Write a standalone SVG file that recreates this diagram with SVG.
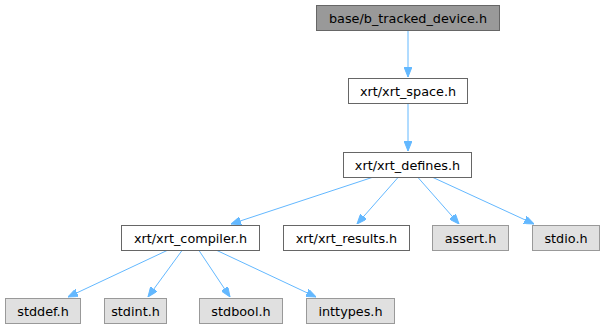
<svg xmlns="http://www.w3.org/2000/svg" width="604" height="329" viewBox="0 0 604 329">
<style>
.n rect{stroke-width:1}
.cur rect{fill:#999999;stroke:#666666}
.loc rect{fill:#ffffff;stroke:#666666}
.sys rect{fill:#e0e0e0;stroke:#999999}
text{font-family:"DejaVu Sans",sans-serif;font-size:12.8px;fill:#000;text-anchor:middle}
.e{stroke:#63b8ff;fill:none;stroke-width:1}
</style>
<defs>
<marker id="ah" markerWidth="10" markerHeight="8" refX="10" refY="4" orient="auto" markerUnits="userSpaceOnUse">
<path d="M0,0 L10,4 L0,8 Z" fill="#63b8ff" stroke="#63b8ff"/>
</marker>
</defs>
<rect width="604" height="329" fill="#fff"/>
<g id="edges">
<path class="e" d="M408,30.5 V77" marker-end="url(#ah)"/>
<path class="e" d="M408,103.5 V151" marker-end="url(#ah)"/>
<path class="e" d="M372,177.5 L231,224" marker-end="url(#ah)"/>
<path class="e" d="M398,177.5 L357,224" marker-end="url(#ah)"/>
<path class="e" d="M418,177.5 L459,224" marker-end="url(#ah)"/>
<path class="e" d="M433,177.5 L534,224" marker-end="url(#ah)"/>
<path class="e" d="M167,250.5 L68,297" marker-end="url(#ah)"/>
<path class="e" d="M182,250.5 L148,297" marker-end="url(#ah)"/>
<path class="e" d="M199,250.5 L230,297" marker-end="url(#ah)"/>
<path class="e" d="M217,250.5 L316,297" marker-end="url(#ah)"/>
</g>
<g id="node1" class="n cur"><rect x="316.5" y="5.5" width="183" height="25"/><text x="408" y="22.5">base/b_tracked_device.h</text></g>
<g id="node2" class="n loc"><rect x="348.5" y="78.5" width="119" height="25"/><text x="408" y="95.5">xrt/xrt_space.h</text></g>
<g id="node3" class="n loc"><rect x="343.5" y="152.5" width="128" height="25"/><text x="407.5" y="169.5">xrt/xrt_defines.h</text></g>
<g id="node4" class="n loc"><rect x="121.5" y="225.5" width="138" height="25"/><text x="190.5" y="242.5">xrt/xrt_compiler.h</text></g>
<g id="node5" class="n loc"><rect x="283.5" y="225.5" width="126" height="25"/><text x="346.5" y="242.5">xrt/xrt_results.h</text></g>
<g id="node6" class="n sys"><rect x="432.5" y="225.5" width="76" height="25"/><text x="470.5" y="242.5">assert.h</text></g>
<g id="node7" class="n sys"><rect x="532.5" y="225.5" width="67" height="25"/><text x="566" y="242.5">stdio.h</text></g>
<g id="node8" class="n sys"><rect x="5.5" y="298.5" width="75" height="25"/><text x="43" y="315.5">stddef.h</text></g>
<g id="node9" class="n sys"><rect x="104.5" y="298.5" width="62" height="25"/><text x="135.5" y="315.5">stdint.h</text></g>
<g id="node10" class="n sys"><rect x="199.5" y="298.5" width="83" height="25"/><text x="241" y="315.5">stdbool.h</text></g>
<g id="node11" class="n sys"><rect x="306.5" y="298.5" width="88" height="25"/><text x="350.5" y="315.5">inttypes.h</text></g>
</svg>
